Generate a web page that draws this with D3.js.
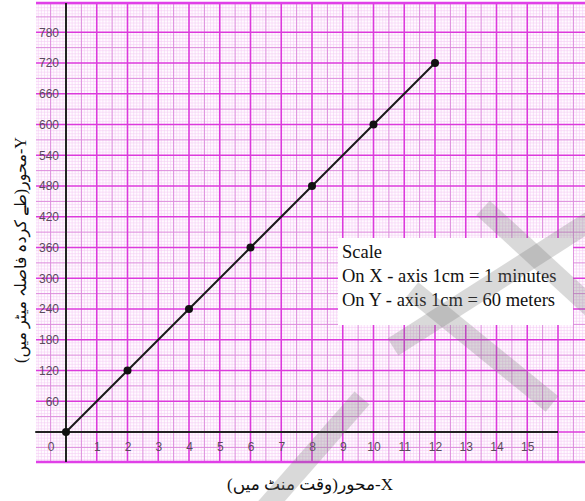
<!DOCTYPE html>
<html>
<head>
<meta charset="utf-8">
<script src="https://cdnjs.cloudflare.com/ajax/libs/d3/7.8.5/d3.min.js"></script>
<style>
  html, body { margin: 0; padding: 0; background: #ffffff; }
  svg { display: block; }
</style>
</head>
<body>
<svg id="chart" width="585" height="501"></svg>
<script>
// ---- data ----
const timeMinutes = [0, 2, 4, 6, 8, 10, 12];
const distanceMeters = [0, 120, 240, 360, 480, 600, 720];
const xTickLabels = [0, 1, 2, 3, 4, 5, 6, 7, 8, 9, 10, 11, 12, 13, 14, 15];
const yTickLabels = [60, 120, 180, 240, 300, 360, 420, 480, 540, 600, 660, 720, 780];
const xAxisTitle = "X-محور(وقت منٹ میں)";
const yAxisTitle = "Y-محور(طے کردہ فاصلہ میٹر میں)";
const scaleLines = ["Scale", "On X - axis 1cm = 1 minutes", "On Y - axis 1cm = 60 meters"];

// ---- layout ----
const svg = d3.select("#chart");
const cell = 30.75;
const x = d3.scaleLinear().domain([-1, 17]).range([35.25, 35.25 + 18 * cell]);
const y = d3.scaleLinear().domain([-60, 840]).range([462.75, 462.75 - 15 * cell]);

const paper = { x0: 36, x1: 585, y0: 3, y1: 462 };

svg.append("defs").append("clipPath").attr("id", "paperClip")
  .append("rect").attr("x", paper.x0).attr("y", paper.y0)
  .attr("width", paper.x1 - paper.x0).attr("height", paper.y1 - paper.y0);

const grid = svg.append("g").attr("clip-path", "url(#paperClip)");
grid.append("rect").attr("x", paper.x0).attr("y", paper.y0)
  .attr("width", paper.x1 - paper.x0).attr("height", paper.y1 - paper.y0)
  .attr("fill", "#fffbff");

const xMinor = d3.range(-10, 171).map(i => i / 10);
const yMinor = d3.range(-10, 141).map(j => j * 6);

function level(v) { // 0 minor, 1 half, 2 major
  const r = Math.round(v * 10);
  if (r % 10 === 0) return 2;
  if (r % 5 === 0) return 1;
  return 0;
}
const styles = [
  { stroke: "#f4caf4", w: 0.55 },
  { stroke: "#dc8adc", w: 1.0 },
  { stroke: "#dc3adc", w: 1.6 }
];
for (const lv of [0, 1, 2]) {
  grid.selectAll(null).data(xMinor.filter(v => level(v) === lv)).join("line")
    .attr("x1", d => x(d)).attr("x2", d => x(d))
    .attr("y1", paper.y0).attr("y2", paper.y1)
    .attr("stroke", styles[lv].stroke).attr("stroke-width", styles[lv].w);
  grid.selectAll(null).data(yMinor.filter(v => level(v / 60) === lv)).join("line")
    .attr("y1", d => y(d)).attr("y2", d => y(d))
    .attr("x1", paper.x0).attr("x2", paper.x1)
    .attr("stroke", styles[lv].stroke).attr("stroke-width", styles[lv].w);
}
// paper border lines
svg.append("line").attr("x1", paper.x0).attr("x2", paper.x1).attr("y1", paper.y0).attr("y2", paper.y0)
  .attr("stroke", "#e040e8").attr("stroke-width", 2.5);
svg.append("line").attr("x1", paper.x0).attr("x2", paper.x1).attr("y1", paper.y1).attr("y2", paper.y1)
  .attr("stroke", "#e040e8").attr("stroke-width", 2.5);

// ---- axes lines ----
svg.append("line").attr("x1", x(0)).attr("x2", x(0)).attr("y1", paper.y0).attr("y2", paper.y1)
  .attr("stroke", "#222").attr("stroke-width", 2);
svg.append("line").attr("x1", x(-1)).attr("x2", x(16)).attr("y1", y(0)).attr("y2", y(0))
  .attr("stroke", "#222").attr("stroke-width", 2);

// ---- tick labels via d3 axes ----
const yAxis = d3.axisLeft(y).tickValues(yTickLabels).tickSize(0).tickPadding(7);
const gy = svg.append("g").attr("transform", `translate(${x(0)},0)`).call(yAxis);
gy.select(".domain").remove();
gy.selectAll("text").attr("font-family", "Liberation Sans, Arial, sans-serif")
  .attr("font-size", 12).attr("fill", "#5a4a5c");

const xAxis = d3.axisBottom(x).tickValues(xTickLabels).tickSize(0).tickPadding(10);
const gx = svg.append("g").attr("transform", `translate(0,${y(0)})`).call(xAxis);
gx.select(".domain").remove();
gx.selectAll("text").attr("font-family", "Liberation Sans, Arial, sans-serif")
  .attr("font-size", 12).attr("fill", "#5a4a5c");
gx.selectAll(".tick").filter(d => d === 0).select("text").attr("x", x(-0.5) - x(0));

// ---- data line & points ----
const pts = timeMinutes.map((t, i) => [t, distanceMeters[i]]);
svg.append("path").datum(pts)
  .attr("d", d3.line().x(d => x(d[0])).y(d => y(d[1])))
  .attr("fill", "none").attr("stroke", "#1a1a1a").attr("stroke-width", 2);
svg.selectAll(null).data(pts).join("circle")
  .attr("cx", d => x(d[0])).attr("cy", d => y(d[1])).attr("r", 4)
  .attr("fill", "#111");

// ---- scale box ----
svg.append("rect").attr("x", 338).attr("y", 238).attr("width", 235).attr("height", 87).attr("fill", "#ffffff");
svg.selectAll(null).data(scaleLines).join("text")
  .attr("x", 342).attr("y", (d, i) => 258 + i * 24)
  .attr("font-family", "Liberation Serif, Times New Roman, serif")
  .attr("font-size", 18.5).attr("fill", "#111")
  .text(d => d);

// ---- axis titles ----
svg.append("text")
  .attr("transform", "translate(22,250) rotate(-90)")
  .attr("text-anchor", "middle").attr("dominant-baseline", "middle")
  .attr("direction", "rtl")
  .attr("font-family", "Liberation Serif, DejaVu Sans, serif")
  .attr("font-size", 16).attr("fill", "#111")
  .text(yAxisTitle);
svg.append("text")
  .attr("x", 310).attr("y", 490)
  .attr("text-anchor", "middle")
  .attr("direction", "rtl")
  .attr("font-family", "Liberation Serif, DejaVu Sans, serif")
  .attr("font-size", 17).attr("fill", "#111")
  .text(xAxisTitle);

// ---- watermark bands ----
const bands = [
  [[393, 347], [592, 220]],
  [[412, 290], [552, 404]],
  [[483, 208], [592, 308]],
  [[262, 512], [362, 398]]
];
svg.append("g").selectAll("line").data(bands).join("line")
  .attr("x1", d => d[0][0]).attr("y1", d => d[0][1])
  .attr("x2", d => d[1][0]).attr("y2", d => d[1][1])
  .attr("stroke", "rgba(120,120,120,0.28)").attr("stroke-width", 20)
  .attr("stroke-linecap", "butt");
</script>
</body>
</html>
